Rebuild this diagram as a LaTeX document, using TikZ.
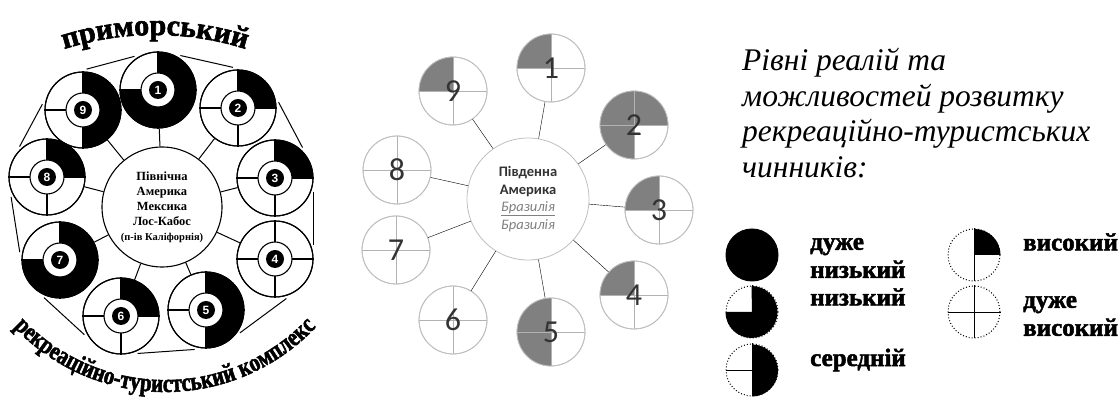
\documentclass[tikz,border=0pt]{standalone}
\usepackage{fontspec}
\setmainfont{Liberation Serif}
\setsansfont{Liberation Sans}
\newfontfamily\calib{Carlito}
\newfontfamily\heavy{Liberation Serif}[BoldFeatures={FakeBold=2}]
\newfontfamily\heavynarrow{Liberation Serif}[FakeStretch=0.8, BoldFeatures={FakeBold=2}]
\usetikzlibrary{positioning,calc,decorations.text}

\begin{document}
\begin{tikzpicture}[x=1pt, y=1pt,
  ring/.style={circle, draw, line width=1.1pt, fill=white, minimum size=76pt, inner sep=0pt},
  hub/.style={circle, draw, line width=1.1pt, fill=white, minimum size=34pt, inner sep=0pt},
  numb/.style={circle, fill=black, text=white, minimum size=18pt, inner sep=0pt,
    font=\sffamily\bfseries\fontsize{12}{12}\selectfont},
  core/.style={circle, draw, line width=1.1pt, fill=white, minimum size=120pt, inner sep=0pt,
    align=center, font=\bfseries\fontsize{12.5}{15}\selectfont},
  dial/.style={circle, draw=black!25, line width=0.8pt, fill=white, minimum size=68pt, inner sep=0pt},
  digit/.style={inner sep=0pt, text=black!80, font=\calib\fontsize{32}{32}\selectfont},
  mcore/.style={circle, draw=black!25, line width=0.8pt, fill=white, minimum size=122pt,
    inner sep=0pt, align=center, text=black!80, font=\calib\fontsize{14.5}{17.5}\selectfont},
  key/.style={circle, draw, dotted, line width=1pt, minimum size=52pt, inner sep=0pt},
  lbl/.style={anchor=west, align=left, inner sep=0pt, font=\heavy\bfseries\fontsize{25}{28}\selectfont}
]
  \useasboundingbox (0,0) rectangle (1118,398);

  % left scheme: north america
  \node[core] (nc) at (162,191) {Північна\\Америка\\Мексика\\Лос-Кабос\\{\fontsize{10.5}{12}\selectfont(п-ів Каліфорнія)}};
  \foreach \i/\x/\y in {1/158/308, 2/238/290, 3/275/220, 4/275/139, 5/206/88,
                        6/121/82, 7/60/138, 8/47/221, 9/83/288}
    \node[ring] (n\i) at (\x,\y) {};
  \foreach \i/\p/\q in {1/-180/90, 2/0/90, 3/0/90, 5/-90/90, 6/0/90, 7/-180/90, 8/0/90, 9/-90/90}
    \fill (n\i.center) -- ++(\p:38pt) arc[start angle=\p, end angle=\q, radius=38pt] -- cycle;
  \foreach \i in {1,...,9} {
    \draw[line width=1.1pt] (n\i.west) -- (n\i.east) (n\i.north) -- (n\i.south);
    \draw[line width=1.1pt] (n\i.center) circle[radius=38pt];
    \node[hub] (h\i) at (n\i) {};
    \node[numb] (b\i) at (n\i) {\i};
    \draw[line width=1pt] (n\i) -- (nc);
  }
  \foreach \a/\b/\t in {1/2/77, 2/3/28, 3/4/0, 4/5/-54, 5/6/-86, 6/7/-133, 7/8/189, 8/9/152, 9/1/105}
    \draw[line width=1pt, shorten <=14pt, shorten >=14pt] (n\a.\t) -- (n\b.\t);

  \path[decorate, decoration={text along path, text align=center,
    text={|\heavy\bfseries\fontsize{30}{30}\selectfont|приморський}}]
    (155,63) ++(125:300pt) arc[start angle=125, end angle=55, radius=300pt];
  \path[decorate, decoration={text along path, text align=center,
    text={|\heavynarrow\bfseries\fontsize{26}{26}\selectfont|рекреаційно-туристський комплекс}}]
    (165,214) ++(215:208pt) arc[start angle=215, end angle=325, radius=208pt];

  % middle scheme: south america
  \node[mcore] (sc) at (528,199) {\textbf{Південна}\\\textbf{Америка}\\
    \textcolor{black!50}{\itshape\underline{Бразилія}}\\\textcolor{black!50}{\itshape Бразилія}};
  \foreach \i/\x/\y in {1/551/330, 2/634/273, 3/659/188, 4/634/103, 5/551/66,
                        6/453/78, 7/396/148, 8/397/228, 9/453/307}
    \node[dial] (s\i) at (\x,\y) {};
  \foreach \i/\p/\q in {1/90/180, 2/0/270, 3/90/180, 4/90/180, 5/90/270, 9/90/180}
    \fill[black!50] (s\i.center) -- ++(\p:34pt) arc[start angle=\p, end angle=\q, radius=34pt] -- cycle;
  \foreach \i in {1,...,9} {
    \draw[black!30, line width=0.8pt] (s\i.west) -- (s\i.east) (s\i.north) -- (s\i.south);
    \draw[black!25, line width=0.8pt] (s\i.center) circle[radius=34pt];
    \node[digit] (d\i) at (s\i) {\i};
    \draw (s\i) -- (sc);
  }

  % legend
  \node[anchor=north west, align=left, inner sep=0pt, font=\itshape\fontsize{31.5}{35.5}\selectfont]
    (title) at (742,350) {Рівні реалій та\\можливостей розвитку\\рекреаційно-туристських\\чинників:};
  \node[key, solid, fill=black] (k1) at (752,143) {};
  \node[key] (k2) at (752,86) {};
  \node[key] (k3) at (752,28) {};
  \node[key] (k4) at (974,143) {};
  \node[key] (k5) at (974,86) {};
  \fill (k2.center) -- (k2.west) arc[start angle=180, end angle=450, radius=26pt] -- cycle;
  \fill (k3.center) -- (k3.south) arc[start angle=-90, end angle=90, radius=26pt] -- cycle;
  \fill (k4.center) -- (k4.east) arc[start angle=0, end angle=90, radius=26pt] -- cycle;
  \draw (k2.west) -- (k2.center) -- (k2.north);
  \draw (k3.west) -- (k3.center) (k3.north) -- (k3.south);
  \draw (k4.north) -- (k4.south);
  \draw (k5.west) -- (k5.east) (k5.north) -- (k5.south);
  \node[lbl] (t1) at (810,140) {дуже\\низький};
  \node[lbl] (t2) at (810,101) {низький};
  \node[lbl] (t3) at (810,38) {середній};
  \node[lbl] (t4) at (1023,156) {високий};
  \node[lbl] (t5) at (1023,82) {дуже\\високий};
\end{tikzpicture}
\end{document}
